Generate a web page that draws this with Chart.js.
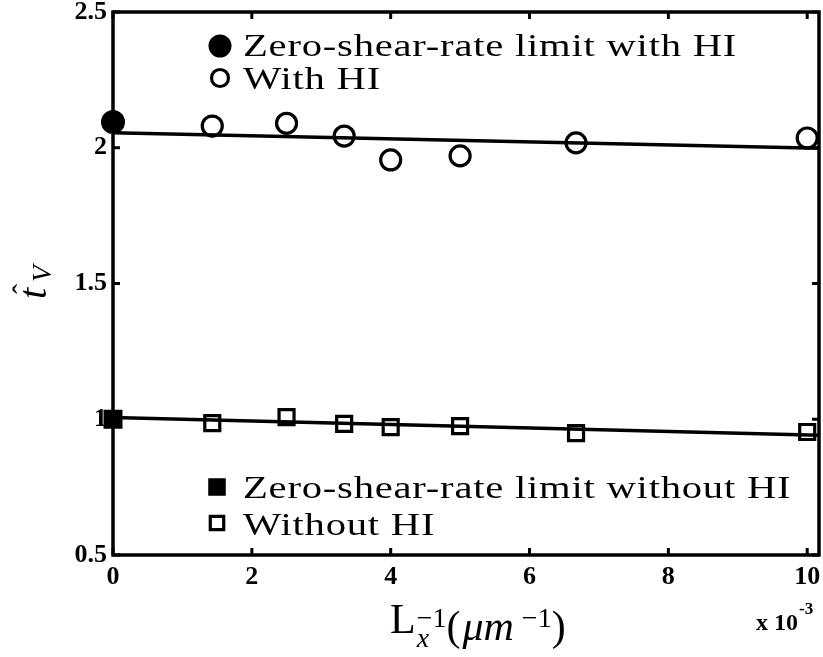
<!DOCTYPE html>
<html>
<head>
<meta charset="utf-8">
<script src="https://cdn.jsdelivr.net/npm/chart.js@4.4.0/dist/chart.umd.min.js"></script>
<style>
  html, body { margin: 0; padding: 0; background: #fff; }
</style>
</head>
<body>
<canvas id="myChart" width="823" height="657"></canvas>
<script>
// inverse box length L_x^-1, in units of 1e-3 um^-1
const invLength = [1.43, 2.5, 3.33, 4, 5, 6.67, 10];
const withHI = [2.08, 2.09, 2.043, 1.955, 1.97, 2.018, 2.036];
const withoutHI = [0.986, 1.008, 0.983, 0.971, 0.975, 0.949, 0.953];

// zero-shear-rate limits (infinite box)
const zeroX = [0];
const zeroWithHI = [2.095];
const zeroWithoutHI = [1.0];

// linear fits
const fitX = [0, 10.17];
const fitWithHI = [2.055, 1.998];
const fitWithoutHI = [1.006, 0.941];

const xTicks = [0, 2, 4, 6, 8, 10];
const yTicks = [0.5, 1, 1.5, 2, 2.5];

const SERIF = '"Liberation Serif", "Times New Roman", serif';

function pts(xs, ys) {
  return xs.map((x, i) => ({ x: x, y: ys[i] }));
}

const data = {
  datasets: [
    {
      label: 'fit with HI',
      data: pts(fitX, fitWithHI),
      showLine: true,
      borderColor: '#000',
      borderWidth: 3.5,
      pointRadius: 0
    },
    {
      label: 'fit without HI',
      data: pts(fitX, fitWithoutHI),
      showLine: true,
      borderColor: '#000',
      borderWidth: 3.5,
      pointRadius: 0
    },
    {
      label: 'Zero-shear-rate limit with HI',
      data: pts(zeroX, zeroWithHI),
      pointStyle: 'circle',
      pointRadius: 11,
      borderWidth: 2,
      borderColor: '#000',
      backgroundColor: '#000',
      clip: false
    },
    {
      label: 'With HI',
      data: pts(invLength, withHI),
      pointStyle: 'circle',
      pointRadius: 10,
      borderWidth: 3.2,
      borderColor: '#000',
      backgroundColor: 'rgba(0,0,0,0)',
      clip: false
    },
    {
      label: 'Zero-shear-rate limit without HI',
      data: pts(zeroX, zeroWithoutHI),
      pointStyle: 'rect',
      pointRadius: 12,
      borderWidth: 2,
      borderColor: '#000',
      backgroundColor: '#000',
      clip: false
    },
    {
      label: 'Without HI',
      data: pts(invLength, withoutHI),
      pointStyle: 'rect',
      pointRadius: 10.6,
      borderWidth: 3.2,
      borderColor: '#000',
      backgroundColor: 'rgba(0,0,0,0)',
      clip: false
    }
  ]
};

// box around the plot with inward ticks on every side
const frame = {
  id: 'frame',
  afterDatasetsDraw(chart) {
    const { ctx, chartArea: a, scales } = chart;
    const len = 7;
    ctx.save();
    ctx.strokeStyle = '#000';
    ctx.lineWidth = 3.5;
    ctx.strokeRect(a.left, a.top, a.right - a.left, a.bottom - a.top);
    ctx.lineWidth = 3;
    ctx.beginPath();
    scales.x.ticks.forEach(t => {
      const px = scales.x.getPixelForValue(t.value);
      ctx.moveTo(px, a.bottom); ctx.lineTo(px, a.bottom - len);
      ctx.moveTo(px, a.top); ctx.lineTo(px, a.top + len);
    });
    scales.y.ticks.forEach(t => {
      const py = scales.y.getPixelForValue(t.value);
      ctx.moveTo(a.left, py); ctx.lineTo(a.left + len, py);
      ctx.moveTo(a.right, py); ctx.lineTo(a.right - len, py);
    });
    ctx.stroke();
    ctx.restore();
  }
};

function marker(ctx, ds, x, y, r) {
  ctx.fillStyle = ds.backgroundColor;
  ctx.strokeStyle = ds.borderColor;
  ctx.lineWidth = ds.borderWidth;
  Chart.helpers.drawPoint(ctx, { pointStyle: ds.pointStyle, radius: r, rotation: 0, borderWidth: ds.borderWidth }, x, y);
}

// wide roman text, stretched a little like the TeX font
function wideText(ctx, text, x, y) {
  ctx.save();
  ctx.translate(x, y);
  ctx.scale(1.27, 1);
  ctx.letterSpacing = '0.6px';
  ctx.fillText(text, 0, 0);
  ctx.restore();
}

// split legend, axis titles and the exponent note
const annotations = {
  id: 'annotations',
  afterDraw(chart) {
    const ctx = chart.ctx;
    const ds = chart.data.datasets;
    ctx.save();
    ctx.fillStyle = '#000';
    ctx.textAlign = 'left';
    ctx.textBaseline = 'alphabetic';

    const legend = [
      { i: 2, x: 220, y: 46, r: 10.5, ty: 56 },
      { i: 3, x: 220, y: 78, r: 8.5, ty: 89 },
      { i: 4, x: 217, y: 487, r: 11, ty: 498 },
      { i: 5, x: 217, y: 523, r: 9.5, ty: 535 }
    ];
    legend.forEach(e => {
      marker(ctx, ds[e.i], e.x, e.y, e.r);
      ctx.fillStyle = '#000';
      ctx.font = '32px ' + SERIF;
      wideText(ctx, ds[e.i].label, 243, e.ty);
    });

    // y title: t-hat with subscript V, rotated
    ctx.save();
    ctx.translate(46, 299);
    ctx.rotate(-Math.PI / 2);
    ctx.font = 'italic 40px ' + SERIF;
    ctx.fillText('t', 0, 0);
    ctx.font = '30px ' + SERIF;
    ctx.textAlign = 'center';
    ctx.fillText('\u02C6', 10, -13);
    ctx.textAlign = 'left';
    ctx.font = 'italic 27px ' + SERIF;
    ctx.fillText('V', 17, 5);
    ctx.restore();

    // x title: L_x^-1 (um^-1)
    let cx = 390;
    ctx.font = '42px ' + SERIF;
    ctx.fillText('L', cx, 633);
    cx += ctx.measureText('L').width + 1;
    ctx.font = 'italic 28px ' + SERIF;
    ctx.fillText('x', cx, 647);
    ctx.font = '28px ' + SERIF;
    ctx.fillText('\u22121', cx, 627);
    cx += ctx.measureText('\u22121').width;
    ctx.font = '42px ' + SERIF;
    ctx.fillText('(', cx, 640);
    cx += ctx.measureText('(').width + 2;
    ctx.font = 'italic 42px ' + SERIF;
    ctx.fillText('\u03BCm', cx, 640);
    cx += ctx.measureText('\u03BCm').width + 8;
    ctx.font = '28px ' + SERIF;
    ctx.fillText('\u22121', cx, 627);
    cx += ctx.measureText('\u22121').width;
    ctx.font = '42px ' + SERIF;
    ctx.fillText(')', cx, 640);

    // x10^-3 multiplier
    ctx.font = 'bold 24px ' + SERIF;
    ctx.textAlign = 'right';
    ctx.fillText('x 10', 798, 630);
    ctx.textAlign = 'left';
    ctx.font = 'bold 17px ' + SERIF;
    ctx.fillText('-3', 799, 614);

    ctx.restore();
  }
};

const config = {
  type: 'scatter',
  data: data,
  options: {
    responsive: false,
    animation: false,
    events: [],
    layout: {
      autoPadding: false,
      padding: { top: 12, right: 4, left: 0, bottom: 0 }
    },
    plugins: {
      legend: { display: false },
      tooltip: { enabled: false }
    },
    scales: {
      x: {
        type: 'linear',
        min: 0,
        max: 10.17,
        afterBuildTicks: s => { s.ticks = xTicks.map(v => ({ value: v })); },
        afterFit: s => { s.height = 102; s.paddingLeft = 0; s.paddingRight = 0; },
        grid: { display: false, drawTicks: false },
        border: { display: false },
        ticks: {
          color: '#000',
          padding: 7,
          maxRotation: 0,
          autoSkip: false,
          font: { family: SERIF, size: 26, weight: 'bold' }
        }
      },
      y: {
        type: 'linear',
        min: 0.5,
        max: 2.5,
        afterBuildTicks: s => { s.ticks = yTicks.map(v => ({ value: v })); },
        afterFit: s => { s.width = 113; s.paddingTop = 0; s.paddingBottom = 0; },
        grid: { display: false, drawTicks: false },
        border: { display: false },
        ticks: {
          color: '#000',
          padding: 6,
          autoSkip: false,
          callback: v => String(v),
          font: { family: SERIF, size: 26, weight: 'bold' }
        }
      }
    }
  },
  plugins: [frame, annotations]
};

const myChart = new Chart(document.getElementById('myChart'), config);
</script>
</body>
</html>
